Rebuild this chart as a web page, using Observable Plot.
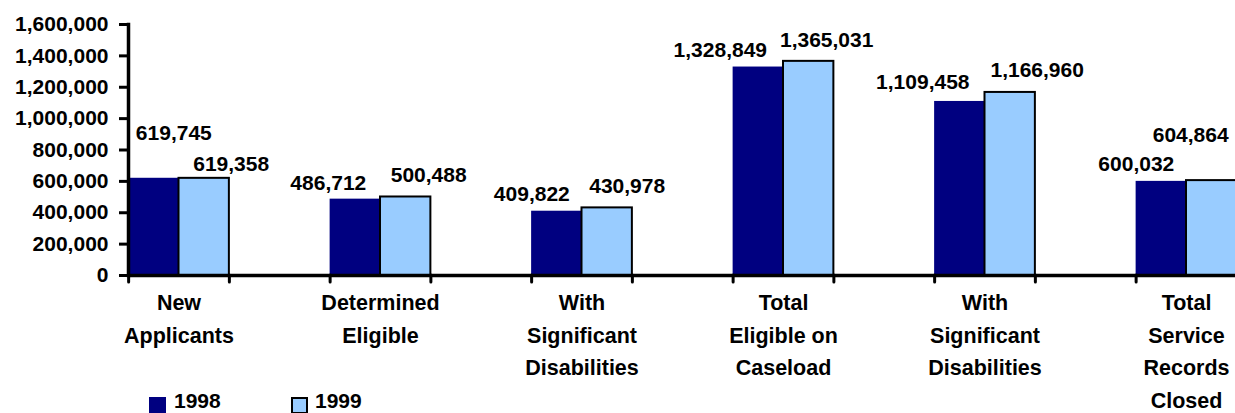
<!DOCTYPE html>
<html>
<head>
<meta charset="utf-8">
<script src="https://cdn.jsdelivr.net/npm/d3@7"></script>
<script src="https://cdn.jsdelivr.net/npm/@observablehq/plot@0.6"></script>
<style>
  html, body { margin: 0; padding: 0; overflow: hidden; background: #fff; }
  #wrap { position: relative; width: 1235px; height: 413px; overflow: hidden; }
  .lg { position: absolute; font: bold 21px "Liberation Sans", Arial, sans-serif; line-height: 24px; color: #000; white-space: nowrap; }
  .sw { position: absolute; box-sizing: border-box; width: 17px; height: 17px; }
</style>
</head>
<body>
<div id="wrap"></div>
<script>
// ---- data ----
const categories = [
  "New\nApplicants",
  "Determined\nEligible",
  "With\nSignificant\nDisabilities",
  "Total\nEligible on\nCaseload",
  "With\nSignificant\nDisabilities",
  "Total\nService\nRecords\nClosed"
];
const seriesNames = ["1998", "1999"];
const values1998 = [619745, 486712, 409822, 1328849, 1109458, 600032];
const values1999 = [619358, 500488, 430978, 1365031, 1166960, 604864];
const yTickValues = [0, 200000, 400000, 600000, 800000, 1000000, 1200000, 1400000, 1600000];

// label nudges (pixels), as placed in the original
const labelDx1998 = [20, -27, -25, -38, -37, -25];
const labelDy1998 = [-38, -9, -10, -10, -12, -10];
const labelDx1999 = [27, 23, 20, 18, 27, -21];
const labelDy1999 = [-7, -15, -15, -14, -15, -39];

const colors = { "1998": "#000080", "1999": "#99CCFF" };
const font = '"Liberation Sans", Arial, sans-serif';
const fmt = d3.format(",");

// ---- table built from the arrays ----
const rows = [];
categories.forEach((c, i) => {
  rows.push({ cat: c, i, series: "1998", value: values1998[i], x1: i - 0.25, x2: i, dx: labelDx1998[i], dy: labelDy1998[i] });
  rows.push({ cat: c, i, series: "1999", value: values1999[i], x1: i, x2: i + 0.25, dx: labelDx1999[i], dy: labelDy1999[i] });
});
const catRows = categories.map((c, i) => ({ cat: c, i }));
const xTicks = categories.flatMap((c, i) => [i - 0.25, i + 0.25]);

const chart = Plot.plot({
  width: 1235,
  height: 430,
  marginLeft: 128,
  marginRight: 0,
  marginTop: 24,
  marginBottom: 155,
  style: { fontFamily: font, fontSize: "21px", fontWeight: "bold", color: "#000", background: "transparent", overflow: "visible" },
  x: { type: "linear", domain: [-0.5, categories.length - 0.5], range: [77.75, 77.75 + 201.5 * categories.length] },
  y: { domain: [0, 1600000] },
  marks: [
    Plot.rect(rows.filter(d => d.series === "1998"), { x1: "x1", x2: "x2", y1: 0, y2: "value", fill: colors["1998"] }),
    Plot.rect(rows.filter(d => d.series === "1999"), { x1: "x1", x2: "x2", y1: 0, y2: "value", fill: colors["1999"], stroke: "#000", strokeWidth: 2 }),
    Plot.ruleY([0], { strokeWidth: 3.5, stroke: "#000" }),
    Plot.frame({ anchor: "left", strokeWidth: 3.5, stroke: "#000" }),
    Plot.axisY({ ticks: yTickValues, tickSize: 9, tickPadding: 11, tickFormat: fmt, strokeWidth: 3, label: null, fontSize: 21 }),
    Plot.axisX({ ticks: xTicks, tickSize: 7, tickFormat: () => "", strokeWidth: 3, strokeLinecap: "round", label: null }),
    ...rows.map(r => Plot.text([r], {
      x: d => d.x1 + 0.125, y: "value", text: d => fmt(d.value),
      dx: r.dx, dy: r.dy, lineAnchor: "bottom", textAnchor: "middle", fontSize: 21, fontWeight: "bold"
    })),
    Plot.text(catRows, { x: "i", y: 0, text: "cat", lineAnchor: "top", dy: 11.9, lineHeight: 1.512, fontSize: 21.5, fontWeight: "bold" })
  ]
});

const wrap = document.getElementById("wrap");
wrap.appendChild(chart);

// legend below the plot
const legend = [
  { name: seriesNames[0], sw: 149, tx: 174, border: false },
  { name: seriesNames[1], sw: 291, tx: 315, border: true }
];
legend.forEach(l => {
  const s = document.createElement("div");
  s.className = "sw";
  s.style.left = l.sw + "px";
  s.style.top = "397px";
  s.style.background = colors[l.name];
  if (l.border) s.style.border = "2px solid #000";
  wrap.appendChild(s);
  const t = document.createElement("div");
  t.className = "lg";
  t.style.left = l.tx + "px";
  t.style.top = "389px";
  t.textContent = l.name;
  wrap.appendChild(t);
});
</script>
</body>
</html>
